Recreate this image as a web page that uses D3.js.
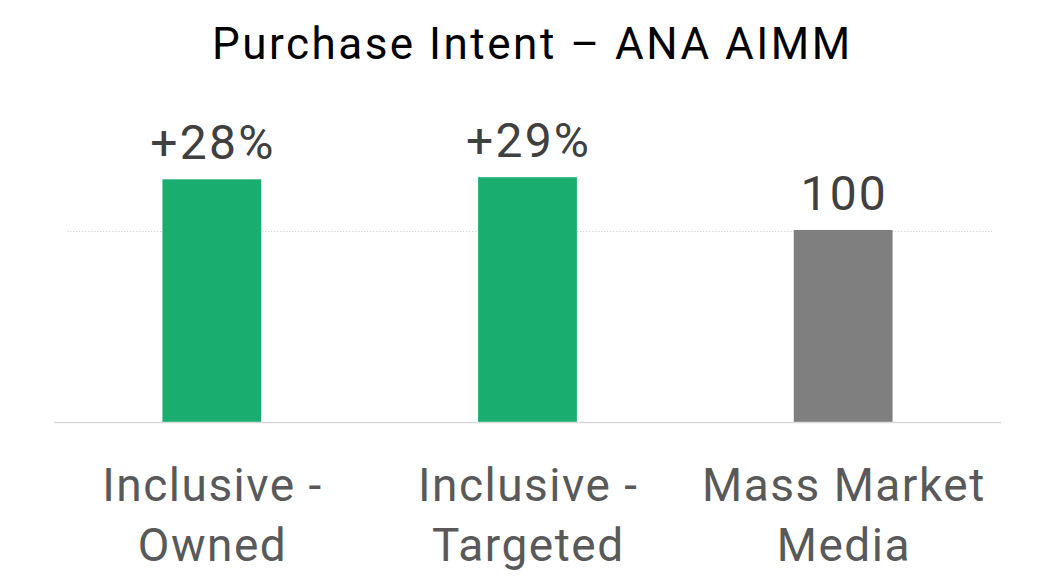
<!DOCTYPE html>
<html>
<head>
<meta charset="utf-8">
<script src="https://cdn.jsdelivr.net/npm/d3@7"></script>
<style>
  html, body { margin: 0; padding: 0; background: #fff; }
  svg { display: block; }
</style>
</head>
<body>
<script>
const categories = [["Inclusive -", "Owned"], ["Inclusive -", "Targeted"], ["Mass Market", "Media"]];
const values = [126.4, 127.5, 100];
const valueLabels = ["+28%", "+29%", "100"];
const barColors = ["#19ad70", "#19ad70", "#7f7f7f"];
const gridTicks = [100];
const title = "Purchase Intent \u2013 ANA AIMM";

const W = 1062, H = 587;
const svg = d3.select("body").append("svg").attr("width", W).attr("height", H);
const FONT = "Roboto, 'Open Sans', sans-serif";

const keys = categories.map((c, i) => i);
const x = d3.scaleBand().domain(keys).range([54, 1001]).paddingInner(0.687).paddingOuter(0.3435);
const y = d3.scaleLinear().domain([0, 100]).range([422, 230]);

// gridlines
svg.selectAll(".grid").data(gridTicks).enter().append("line")
  .attr("x1", 67).attr("x2", 992)
  .attr("y1", d => y(d) + 1.5).attr("y2", d => y(d) + 1.5)
  .attr("stroke", "#d9d9d9").attr("stroke-width", 1.2).attr("stroke-dasharray", "1.5,1.5");

// bars
svg.selectAll(".bar").data(values).enter().append("rect")
  .attr("x", (d, i) => x(i)).attr("width", x.bandwidth())
  .attr("y", d => y(d)).attr("height", d => y(0) - y(d))
  .attr("fill", (d, i) => barColors[i]);

// baseline
svg.append("line").attr("x1", 54).attr("x2", 1001).attr("y1", y(0) + 0.5).attr("y2", y(0) + 0.5)
  .attr("stroke", "#d9d9d9").attr("stroke-width", 1.5);

// value labels
const valLS = 2.2;
svg.selectAll(".val").data(values).enter().append("text")
  .attr("x", (d, i) => x(i) + x.bandwidth() / 2 + valLS / 2).attr("y", d => y(d) - 20)
  .attr("text-anchor", "middle").attr("font-family", FONT).attr("font-size", 48)
  .attr("letter-spacing", valLS)
  .attr("fill", "#404040").text((d, i) => valueLabels[i]);

// category labels
const catLS = 1.5;
const cat = svg.selectAll(".cat").data(categories).enter().append("text")
  .attr("text-anchor", "middle").attr("font-family", FONT).attr("font-size", 46)
  .attr("letter-spacing", catLS)
  .attr("fill", "#595959");
cat.each(function(d, i) {
  const t = d3.select(this);
  d.forEach((line, j) => {
    t.append("tspan").attr("x", x(i) + x.bandwidth() / 2 + catLS / 2).attr("y", 501 + j * 60).text(line);
  });
});

// title
const titleLS = 2.5;
svg.append("text").attr("x", 531 + titleLS / 2).attr("y", 59).attr("text-anchor", "middle")
  .attr("font-family", FONT).attr("font-size", 44).attr("letter-spacing", titleLS)
  .attr("fill", "#000").text(title);
</script>
</body>
</html>
